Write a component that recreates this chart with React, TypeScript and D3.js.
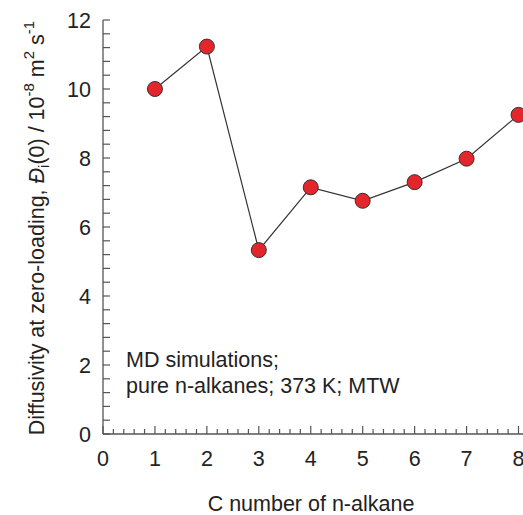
import React from "react";
import * as d3 from "d3";

// Carbon number of each n-alkane and its zero-loading diffusivity (10^-8 m2/s)
const carbonNumbers: number[] = [1, 2, 3, 4, 5, 6, 7, 8];
const diffusivity: number[] = [10.0, 11.23, 5.33, 7.15, 6.76, 7.3, 7.98, 9.25];

const xTickLabels: number[] = [0, 1, 2, 3, 4, 5, 6, 7, 8];
const yTickLabels: number[] = [0, 2, 4, 6, 8, 10, 12];
const noteLines: string[] = ["MD simulations;", "pure n-alkanes; 373 K; MTW"];

const W = 523;
const H = 515;
const FONT = "'Liberation Sans', Arial, Helvetica, sans-serif";
const AXIS = "#555";
const INK = "#222";

export default function App() {
  const x = d3.scaleLinear().domain([0, 8]).range([103, 518.5]);
  const y = d3.scaleLinear().domain([0, 12]).range([434, 20]);

  const line = d3
    .line<number>()
    .x((_, i) => x(carbonNumbers[i]))
    .y((d) => y(d));

  const xMinor = d3.range(0, 41).map((i) => i * 0.2);
  const yMinor = d3.range(0, 31).map((i) => i * 0.4);

  return (
    <svg
      width={W}
      height={H}
      style={{ position: "absolute", left: 0, top: 0, background: "#fff" }}
      fontFamily={FONT}
    >
      {/* y axis */}
      <line x1={x(0)} x2={x(0)} y1={y(0)} y2={y(12)} stroke={AXIS} strokeWidth={1.3} />
      {yMinor.map((v) => (
        <line key={"yt" + v} x1={x(0)} x2={x(0) + 7} y1={y(v)} y2={y(v)} stroke={AXIS} strokeWidth={1.2} />
      ))}
      {yTickLabels.map((v) => (
        <text key={"yl" + v} x={91} y={y(v)} dy="0.36em" textAnchor="end" fontSize={21.5} fill={INK}>
          {v}
        </text>
      ))}

      {/* x axis */}
      <line x1={x(0)} x2={W} y1={y(0)} y2={y(0)} stroke={AXIS} strokeWidth={1.3} />
      {xMinor.map((v) => {
        const major = Math.abs(v - Math.round(v)) < 1e-6;
        return (
          <line
            key={"xt" + v.toFixed(1)}
            x1={x(v)}
            x2={x(v)}
            y1={y(0)}
            y2={y(0) - (major ? 8 : 5)}
            stroke={AXIS}
            strokeWidth={1.2}
          />
        );
      })}
      {xTickLabels.map((v) => (
        <text key={"xl" + v} x={x(v)} y={466} textAnchor="middle" fontSize={21.5} fill={INK}>
          {v}
        </text>
      ))}

      {/* axis titles */}
      <text x={311} y={511} textAnchor="middle" fontSize={21.5} fill={INK}>
        C number of n-alkane
      </text>
      <text
        transform="translate(44,228) rotate(-90)"
        textAnchor="middle"
        fontSize={21.5}
        fill={INK}
      >
        Diffusivity at zero-loading,{" "}
        <tspan fontStyle="italic">Đ</tspan>
        <tspan fontSize={15} dy={5}>i</tspan>
        <tspan dy={-5}>(0) / 10</tspan>
        <tspan fontSize={15} dy={-10}>-8</tspan>
        <tspan dy={10}> m</tspan>
        <tspan fontSize={15} dy={-10}>2</tspan>
        <tspan dy={10}> s</tspan>
        <tspan fontSize={15} dy={-10}>-1</tspan>
      </text>

      {/* annotation */}
      {noteLines.map((t, i) => (
        <text key={t} x={126} y={367 + i * 26} fontSize={21.5} fill={INK}>
          {t}
        </text>
      ))}

      {/* series */}
      <path d={line(diffusivity) ?? ""} fill="none" stroke="#333" strokeWidth={1.2} />
      {diffusivity.map((d, i) => (
        <circle
          key={"p" + i}
          cx={x(carbonNumbers[i])}
          cy={y(d)}
          r={7.5}
          fill="#e3262b"
          stroke="#333"
          strokeWidth={1}
        />
      ))}
    </svg>
  );
}
